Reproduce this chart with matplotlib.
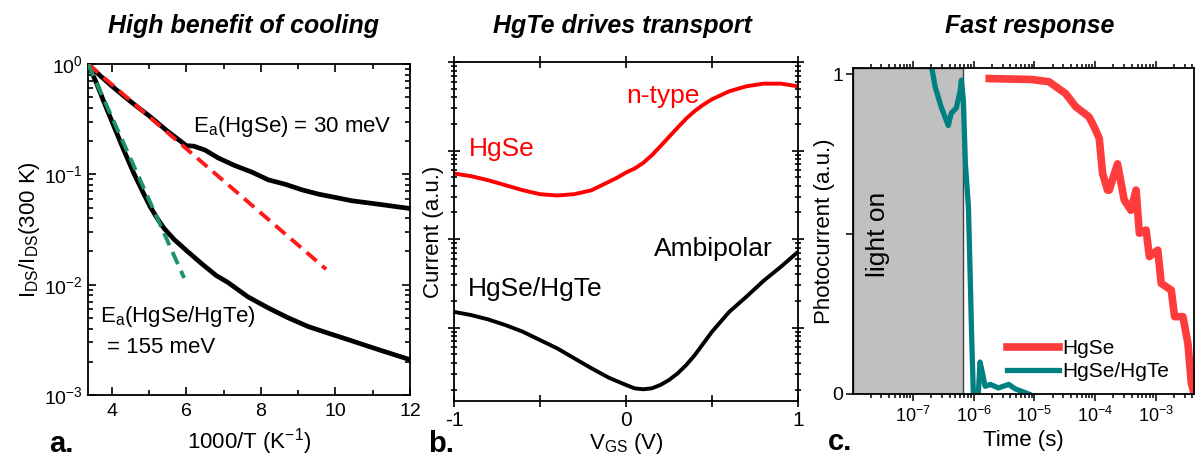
import matplotlib
matplotlib.use("Agg")
import matplotlib.pyplot as plt
from matplotlib.ticker import FixedLocator, MultipleLocator, LogLocator, NullFormatter, FixedFormatter

plt.rcParams['font.family'] = ['Liberation Sans', 'DejaVu Sans']
plt.rcParams['mathtext.fontset'] = 'custom'
plt.rcParams['mathtext.rm'] = 'Liberation Sans'
plt.rcParams['mathtext.it'] = 'Liberation Sans:italic'
plt.rcParams['mathtext.bf'] = 'Liberation Sans:bold'
plt.rcParams['axes.unicode_minus'] = False

# ---------------- Panel a data ----------------
inv_T_hgse = [3.36, 3.70, 4.00, 4.50, 5.00, 5.50, 6.00, 6.20, 6.50, 6.85, 7.30, 7.75,
              8.20, 8.65, 9.10, 9.55, 10.0, 10.45, 10.9, 11.35, 12.0]
ratio_hgse = [1.0, 0.776, 0.631, 0.457, 0.339, 0.245, 0.182, 0.180, 0.166, 0.141, 0.120,
              0.105, 0.0891, 0.0813, 0.0724, 0.0661, 0.0617, 0.0575, 0.0550, 0.0525, 0.0490]
inv_T_het = [3.36, 3.59, 3.77, 4.05, 4.32, 4.59, 4.86, 5.04, 5.22, 5.40, 5.67, 6.03,
             6.39, 6.80, 7.11, 7.65, 8.19, 8.73, 9.27, 9.81, 10.36, 10.90, 11.44, 12.0]
ratio_het = [1.0, 0.668, 0.468, 0.275, 0.166, 0.102, 0.0661, 0.0501, 0.0398, 0.0324,
             0.0257, 0.0200, 0.0157, 0.0121, 0.0105, 0.00776, 0.00617, 0.00501,
             0.00417, 0.00363, 0.00316, 0.00275, 0.00240, 0.00209]
fit_hgse_x = [3.36, 9.75]
fit_hgse_y = [1.0, 0.0138]
fit_het_x = [3.36, 5.94]
fit_het_y = [1.0, 0.0115]
a_yticks = [1e-3, 1e-2, 1e-1, 1e0]
a_xticks = [4, 6, 8, 10, 12]

# ---------------- Panel b data ----------------
vgs = [-1.0, -0.9, -0.8, -0.7, -0.6, -0.5, -0.4, -0.3, -0.2, -0.1, -0.05, 0.0, 0.05,
       0.1, 0.15, 0.2, 0.25, 0.3, 0.35, 0.4, 0.45, 0.5, 0.6, 0.7, 0.8, 0.9, 1.0]
cur_hgse = [551, 514, 462, 406, 357, 322, 311, 322, 357, 444, 496, 565, 627, 726,
            885, 1119, 1426, 1816, 2296, 2801, 3303, 3793, 4670, 5318, 5700, 5700, 5318]
vgs_het = [-1.0, -0.9, -0.8, -0.7, -0.6, -0.5, -0.4, -0.3, -0.2, -0.1, 0.0, 0.05,
           0.1, 0.15, 0.2, 0.25, 0.3, 0.35, 0.4, 0.5, 0.6, 0.7, 0.8, 0.9, 1.0]
cur_het = [15.1, 13.9, 12.4, 10.7, 9.02, 7.26, 5.85, 4.51, 3.48, 2.73, 2.26, 2.07,
           2.02, 2.07, 2.26, 2.57, 3.05, 3.79, 4.92, 9.02, 15.1, 22.4, 33.9, 48.7, 71.9]
b_xticks = [-1, -0.5, 0, 0.5, 1]
b_xticklabels = ['-1', '', '0', '', '1']

# ---------------- Panel c data ----------------
t_het = [1.99e-7, 2.32e-7, 2.91e-7, 3.80e-7, 4.27e-7, 5.16e-7, 6.01e-7, 6.25e-7,
         6.74e-7, 7.28e-7, 8.17e-7, 8.71e-7, 9.27e-7, 9.86e-7, 1.19e-6, 1.27e-6,
         1.39e-6, 1.54e-6, 1.87e-6, 2.56e-6, 3.76e-6, 4.84e-6, 8.05e-6]
pc_het = [1.03, 0.96, 0.898, 0.84, 0.879, 0.895, 0.951, 0.982, 0.92, 0.72, 0.586,
          0.378, 0.169, 0.0, 0.0, 0.10, 0.066, 0.024, 0.03, 0.019, 0.03, 0.016, 0.0]
t_hgse = [1.80e-6, 9.1e-6, 1.74e-5, 3.26e-5, 4.79e-5, 7.94e-5, 9.64e-5, 1.17e-4,
          1.33e-4, 1.60e-4, 1.71e-4, 2.34e-4, 3.02e-4, 3.89e-4, 4.73e-4, 5.37e-4,
          6.92e-4, 7.85e-4, 1.08e-3, 1.23e-3, 1.80e-3, 2.04e-3, 2.80e-3, 3.39e-3,
          3.86e-3, 4.27e-3]
pc_hgse = [0.987, 0.984, 0.977, 0.94, 0.899, 0.867, 0.836, 0.80, 0.69, 0.638, 0.638,
           0.72, 0.607, 0.575, 0.638, 0.503, 0.513, 0.43, 0.45, 0.346, 0.325, 0.242,
           0.242, 0.158, 0.033, 0.003]
light_on_end = 6.6e-7
c_xticks = [1e-7, 1e-6, 1e-5, 1e-4, 1e-3]
c_yticks = [0, 0.5, 1]
c_yticklabels = ['0', '', '1']

W, H = 1195, 462
fig = plt.figure(figsize=(W / 100, H / 100), dpi=100)

def box(l, t, r, b):
    return [l / W, 1 - b / H, (r - l) / W, (b - t) / H]

# ================= Panel a =================
axa = fig.add_axes(box(88, 64, 410, 395))
axa.set_yscale('log')
axa.plot(fit_hgse_x, fit_hgse_y, color='#ff1a1a', lw=2.8, dashes=(3.4, 1.9), zorder=3)
axa.plot(fit_het_x, fit_het_y, color='#1a9466', lw=2.8, dashes=(3.4, 1.9), zorder=3)
axa.plot(inv_T_hgse, ratio_hgse, color='black', lw=3.4, zorder=2, solid_joinstyle='round')
axa.plot(inv_T_het, ratio_het, color='black', lw=3.4, zorder=2, solid_joinstyle='round')
axa.set_xlim(3.36, 12)
axa.set_ylim(1e-3, 1)
axa.xaxis.set_major_locator(FixedLocator(a_xticks))
axa.xaxis.set_minor_locator(MultipleLocator(1))
axa.yaxis.set_major_locator(FixedLocator(a_yticks))
axa.yaxis.set_minor_locator(LogLocator(base=10, subs=range(2, 10), numticks=20))
axa.yaxis.set_minor_formatter(NullFormatter())
axa.tick_params(which='both', direction='in', top=True, right=True, labelsize=14, width=1.2)
axa.tick_params(which='major', length=6)
axa.tick_params(which='minor', length=3.5)
axa.tick_params(axis='x', pad=6)
axa.set_xlabel('1000/T (K$^{-1}$)', fontsize=16, labelpad=4)
axa.set_ylabel('I$_{\\mathrm{DS}}$/I$_{\\mathrm{DS}}$(300 K)', fontsize=16, labelpad=2)
axa.text(6.17, 0.27, 'E$_{\\mathrm{a}}$(HgSe) = 30 meV', fontsize=16, va='center', ha='left')
axa.text(3.69, 0.0051, 'E$_{\\mathrm{a}}$(HgSe/HgTe)', fontsize=16, va='center', ha='left')
axa.text(3.87, 0.0027, '= 155 meV', fontsize=16, va='center', ha='left')
for s in axa.spines.values():
    s.set_linewidth(1.3)

# ================= Panel b =================
axb = fig.add_axes(box(454, 62, 798, 401))
axb.set_yscale('log')
axb.plot(vgs, cur_hgse, color='#ff0000', lw=2.8, solid_joinstyle='round')
axb.plot(vgs_het, cur_het, color='black', lw=2.8, solid_joinstyle='round')
axb.set_xlim(-1, 1)
axb.set_ylim(10 ** 0.173, 1e4)
axb.xaxis.set_major_locator(FixedLocator(b_xticks))
axb.xaxis.set_major_formatter(FixedFormatter(b_xticklabels))
axb.yaxis.set_major_locator(LogLocator(base=10, numticks=10))
axb.yaxis.set_minor_locator(LogLocator(base=10, subs=range(2, 10), numticks=20))
axb.yaxis.set_major_formatter(NullFormatter())
axb.yaxis.set_minor_formatter(NullFormatter())
axb.tick_params(which='both', direction='inout', top=True, right=True, labelsize=15, width=1.2)
axb.tick_params(which='major', length=8)
axb.tick_params(which='minor', length=4)
axb.tick_params(axis='x', pad=3)
axb.set_xlabel('V$_{\\mathrm{GS}}$ (V)', fontsize=16, labelpad=1)
axb.set_ylabel('Current (a.u.)', fontsize=16, labelpad=0)
axb.text(-0.913, 1050, 'HgSe', color='#ff0000', fontsize=19, va='center', ha='left')
axb.text(0.004, 4170, 'n-type', color='#ff0000', fontsize=19, va='center', ha='left')
axb.text(0.16, 78, 'Ambipolar', color='black', fontsize=19, va='center', ha='left')
axb.text(-0.92, 27.5, 'HgSe/HgTe', color='black', fontsize=19, va='center', ha='left')
for s in axb.spines.values():
    s.set_linewidth(1.3)

# ================= Panel c =================
axc = fig.add_axes(box(853, 68, 1194, 394))
axc.set_xscale('log')
axc.set_xlim(10 ** -7.99, 10 ** -2.37)
axc.set_ylim(0, 1.02)
axc.axvspan(10 ** -7.99, light_on_end, facecolor='#c0c0c0', edgecolor='#404040', lw=1.0, zorder=0)
axc.plot(t_hgse, pc_hgse, color='#ff3c3c', lw=5.5, solid_joinstyle='round', label='HgSe')
axc.plot(t_het, pc_het, color='#008080', lw=3.8, solid_joinstyle='round', label='HgSe/HgTe')
axc.xaxis.set_major_locator(FixedLocator(c_xticks))
axc.xaxis.set_minor_locator(LogLocator(base=10, subs=range(2, 10), numticks=20))
axc.xaxis.set_minor_formatter(NullFormatter())
axc.yaxis.set_major_locator(FixedLocator(c_yticks))
axc.yaxis.set_major_formatter(FixedFormatter(c_yticklabels))
axc.tick_params(which='both', direction='out', top=True, right=False, labelsize=13, width=1.1)
axc.tick_params(which='major', length=5)
axc.tick_params(which='minor', length=3)
axc.tick_params(axis='y', labelsize=14, pad=2)
axc.set_xlabel('Time (s)', fontsize=16, labelpad=3)
axc.set_ylabel('Photocurrent (a.u.)', fontsize=16, labelpad=-2)
axc.text(10 ** -7.57, 0.50, 'light on', rotation=90, fontsize=19, va='center', ha='center')
leg = axc.legend(loc='center left', bbox_to_anchor=(0.452, 0.104), frameon=False,
                 fontsize=15, handlelength=2.5, handletextpad=0.15, borderpad=0,
                 borderaxespad=0, labelspacing=0.2)
for s in axc.spines.values():
    s.set_linewidth(1.3)

# ================= Titles & panel labels =================
tkw = dict(fontsize=18, fontweight='bold', fontstyle='italic', ha='center', va='baseline')
fig.text(243 / W, 1 - 33 / H, 'High benefit of cooling', **tkw)
fig.text(622 / W, 1 - 33 / H, 'HgTe drives transport', **tkw)
fig.text(1030 / W, 1 - 33 / H, 'Fast response', **tkw)
lkw = dict(fontsize=21, fontweight='bold', ha='left', va='baseline')
fig.text(49 / W, 1 - 452 / H, 'a.', **lkw)
fig.text(428 / W, 1 - 452 / H, 'b.', **lkw)
fig.text(828 / W, 1 - 450 / H, 'c.', **lkw)

fig.savefig('out.png', dpi=100)
